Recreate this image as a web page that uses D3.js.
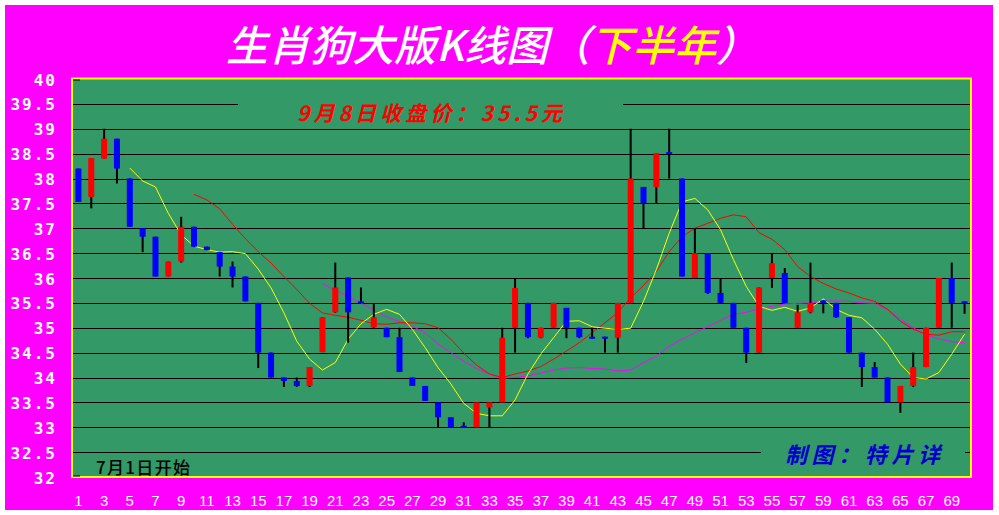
<!DOCTYPE html>
<html><head><meta charset="utf-8">
<script src="https://cdn.jsdelivr.net/npm/d3@7"></script>
<style>html,body{margin:0;padding:0;background:#fff;}svg{display:block;}</style>
</head><body>
<svg id="c" width="999" height="515"></svg>
<script>
// ---- data ----
const days = d3.range(1, 71);
const openV  = [38.2,37.63,38.4,38.8,38.0,37.0,36.83,36.03,36.33,37.03,36.63,36.52,36.23,36.03,35.5,34.5,34.0,33.93,33.83,34.51,35.31,36.01,35.53,35.01,35.0,34.81,34.0,33.83,33.5,33.2,33.03,33.0,33.4,33.5,35.0,35.5,34.8,35.0,35.4,35.0,34.82,34.82,34.8,35.5,37.83,37.83,38.53,38.0,36.0,36.5,35.7,35.5,35.0,34.5,36.0,36.1,35.0,35.31,35.55,35.5,35.21,34.5,34.21,34.0,33.5,33.83,34.21,35.0,36.0,35.53];
const highV  = [38.2,38.41,39.0,38.8,38.0,37.0,36.83,36.33,37.23,37.03,36.63,36.52,36.33,36.03,35.5,34.5,34.0,34.0,34.21,35.21,36.31,36.01,35.81,35.49,35.0,35.0,34.0,33.83,33.5,33.2,33.1,33.5,33.5,35.0,36.0,35.5,35.0,35.5,35.4,35.0,35.0,34.82,35.5,39.0,37.83,38.51,39.0,38.0,37.0,36.5,36.0,35.5,35.0,35.81,36.5,36.2,35.46,36.31,35.55,35.5,35.21,34.5,34.31,34.0,33.83,34.5,35.0,36.0,36.31,35.53];
const lowV   = [37.53,37.4,38.4,37.9,37.03,36.52,36.03,36.03,36.31,36.62,36.56,36.03,35.81,35.53,34.19,34.0,33.81,33.81,33.81,34.51,35.3,34.7,35.5,35.0,34.81,34.11,33.83,33.53,33.0,33.0,33.0,33.0,33.0,33.5,34.5,34.79,34.79,35.0,34.79,34.79,34.78,34.5,34.5,35.5,37.0,37.5,38.0,36.03,36.0,35.68,35.5,35.0,34.29,34.5,35.8,35.5,35.0,35.29,35.29,35.2,34.5,33.81,34.0,33.5,33.29,33.81,34.21,35.0,35.0,35.28];
const closeV = [37.53,38.41,38.8,38.2,37.03,36.83,36.03,36.33,37.03,36.63,36.56,36.23,36.03,35.53,34.5,34.0,33.93,33.83,34.21,35.21,35.81,35.31,35.5,35.21,34.81,34.11,33.83,33.53,33.2,33.0,33.0,33.5,33.5,34.8,35.8,34.81,35.0,35.5,35.0,34.81,34.78,34.78,35.5,38.0,37.5,38.51,38.5,36.03,36.5,35.7,35.5,35.0,34.5,35.81,36.3,35.5,35.31,35.5,35.5,35.21,34.5,34.21,34.0,33.5,33.83,34.21,35.0,36.0,35.5,35.5];
// moving-average lines as drawn (5-day from day 5, 10-day from day 10, 20-day from day 20)
const ma5  = [38.21,37.95,37.83,37.3,36.87,36.64,36.57,36.52,36.53,36.49,36.18,35.8,35.3,34.73,34.37,34.15,34.3,34.77,35.08,35.27,35.37,35.27,34.97,34.6,34.2,33.87,33.48,33.28,33.23,33.23,33.55,34.07,34.47,34.8,35.13,35.14,35.02,34.99,34.97,34.99,35.53,36.17,36.9,37.53,37.6,37.37,36.97,36.37,35.83,35.43,35.35,35.41,35.33,35.4,35.58,35.37,35.25,35.2,34.97,34.67,34.27,34.0,33.97,34.1,34.47,34.87];
const ma10 = [37.68,37.57,37.39,37.08,36.79,36.53,36.3,36.03,35.77,35.49,35.3,35.25,35.21,35.15,35.08,35.07,35.1,35.1,35.08,35.0,34.77,34.49,34.25,34.07,34.0,34.07,34.13,34.22,34.37,34.53,34.7,34.9,35.1,35.31,35.6,35.85,36.13,36.53,36.83,37.0,37.1,37.2,37.27,37.23,36.91,36.78,36.57,36.23,36.03,35.89,35.78,35.7,35.6,35.53,35.37,35.13,34.97,34.87,34.85,34.92,34.92];
const ma20 = [35.89,35.75,35.63,35.5,35.35,35.22,35.12,35.03,34.9,34.67,34.5,34.33,34.18,34.07,33.99,34.0,34.03,34.09,34.15,34.19,34.2,34.18,34.17,34.13,34.15,34.3,34.43,34.63,34.77,34.9,35.02,35.15,35.27,35.31,35.38,35.43,35.48,35.49,35.5,35.53,35.54,35.53,35.5,35.49,35.37,35.17,35.0,34.85,34.78,34.72,34.7];
const yTicks = [40,39.5,39,38.5,38,37.5,37,36.5,36,35.5,35,34.5,34,33.5,33,32.5,32];
const yTickLabels = ["40","39.5","39","38.5","38","37.5","37","36.5","36","35.5","35","34.5","34","33.5","33","32.5","32"];
const xTickDays = d3.range(1, 70, 2);
const titleParts = ["生肖狗大版K线图（","下半年","）"];
const noteTop = "9月8日收盘价：35.5元";
const noteStart = "7月1日开始";
const noteAuthor = "制图：特片详";

// ---- drawing ----
const svg = d3.select("#c");
const L = 72, R = 971, T = 79, B = 477;
const x = d3.scaleBand().domain(days).range([L, R]);
const y = d3.scaleLinear().domain([32, 40]).range([B, T]);
const cx = d => x(d) + x.bandwidth() / 2;

svg.append("rect").attr("x",5).attr("y",5).attr("width",988).attr("height",505).attr("fill","#FF00FF");
svg.append("rect").attr("x",L).attr("y",T).attr("width",R-L).attr("height",B-T).attr("fill","#339966");

// grid lines
svg.append("g").selectAll("line").data(yTicks.filter(v => v > 32 && v < 40)).join("line")
  .attr("x1", L).attr("x2", R).attr("y1", d => Math.round(y(d)) + 0.5).attr("y2", d => Math.round(y(d)) + 0.5)
  .attr("stroke", "#000").attr("stroke-width", 1.2);

// opaque text boxes that hide grid segments
svg.append("rect").attr("x",238).attr("y",96).attr("width",385).attr("height",30).attr("fill","#339966");
svg.append("rect").attr("x",761).attr("y",438).attr("width",204).attr("height",30).attr("fill","#339966");

// y labels
svg.append("g").selectAll("text").data(yTicks).join("text")
  .attr("x", 57).attr("y", d => y(d) + 1)
  .attr("text-anchor","end").attr("dominant-baseline","central")
  .attr("fill","#fff").attr("font-family","'DejaVu Sans Mono', monospace").attr("font-weight","bold")
  .attr("font-size",16).attr("letter-spacing","2px")
  .text((d,i) => yTickLabels[i]);

// x labels
svg.append("g").selectAll("text").data(xTickDays).join("text")
  .attr("x", d => cx(d)).attr("y", 500)
  .attr("text-anchor","middle").attr("dominant-baseline","central")
  .attr("fill","#fff").attr("font-family","'Liberation Sans', Arial, sans-serif")
  .attr("font-size",15).text(d => d);

// moving averages
function maLine(arr, start, color) {
  const pts = arr.map((v, i) => [start + i, v]);
  svg.append("path").datum(pts)
    .attr("d", d3.line().x(p => cx(p[0])).y(p => y(p[1])))
    .attr("fill","none").attr("stroke",color).attr("stroke-width",1);
}
maLine(ma20, 20, "#FF00FF");
maLine(ma10, 10, "#FF0000");
maLine(ma5, 5, "#FFFF00");

// candles
const bw = 6;
const cg = svg.append("g").selectAll("g").data(days).join("g");
cg.append("rect")
  .attr("x", d => cx(d) - 1).attr("width", 2)
  .attr("y", (d,i) => y(highV[i])).attr("height", (d,i) => Math.max(0, y(lowV[i]) - y(highV[i])))
  .attr("fill","#000");
cg.append("rect")
  .attr("x", d => cx(d) - bw/2).attr("width", bw)
  .attr("y", (d,i) => y(Math.max(openV[i], closeV[i])))
  .attr("height", (d,i) => Math.max(2, Math.abs(y(openV[i]) - y(closeV[i]))))
  .attr("fill", (d,i) => closeV[i] > openV[i] ? "#FF0000" : "#0000FF");

// plot border
svg.append("rect").attr("x",L).attr("y",T-0.5).attr("width",R-L).attr("height",B-T+0.5)
  .attr("fill","none").attr("stroke","#FFFF00").attr("stroke-width",2);
svg.append("line").attr("x1",L+1).attr("x2",L+8).attr("y1",T+1).attr("y2",T+1).attr("stroke","#000");
svg.append("line").attr("x1",L+1).attr("x2",L+8).attr("y1",B-1).attr("y2",B-1).attr("stroke","#000");

// title
const tt = svg.append("text").attr("x", 492).attr("y", 42).attr("text-anchor","middle")
  .attr("dominant-baseline","central").attr("font-family","'Noto Sans CJK SC', sans-serif")
  .attr("font-size", 42).attr("font-style","italic").attr("font-weight", 500);
tt.append("tspan").attr("fill","#fff").text(titleParts[0]);
tt.append("tspan").attr("fill","#FFFF00").text(titleParts[1]);
tt.append("tspan").attr("fill","#fff").text(titleParts[2]);

// notes
svg.append("text").attr("x", 297).attr("y", 112).attr("dominant-baseline","central")
  .attr("fill","#FF0000").attr("font-family","'Noto Sans CJK SC', sans-serif").attr("font-weight","bold")
  .attr("font-style","italic").attr("font-size",21).attr("textLength",265).attr("lengthAdjust","spacing")
  .text(noteTop);
svg.append("text").attr("x", 96).attr("y", 466).attr("dominant-baseline","central")
  .attr("fill","#000").attr("font-family","'Noto Sans CJK SC', sans-serif").attr("font-weight",500)
  .attr("font-size",17).attr("textLength",94).attr("lengthAdjust","spacing")
  .text(noteStart);
svg.append("text").attr("x", 785).attr("y", 453).attr("dominant-baseline","central")
  .attr("fill","#0000CC").attr("font-family","'Noto Sans CJK SC', sans-serif").attr("font-weight","bold")
  .attr("font-style","italic").attr("font-size",22).attr("textLength",155).attr("lengthAdjust","spacing")
  .text(noteAuthor);
</script>
</body></html>
